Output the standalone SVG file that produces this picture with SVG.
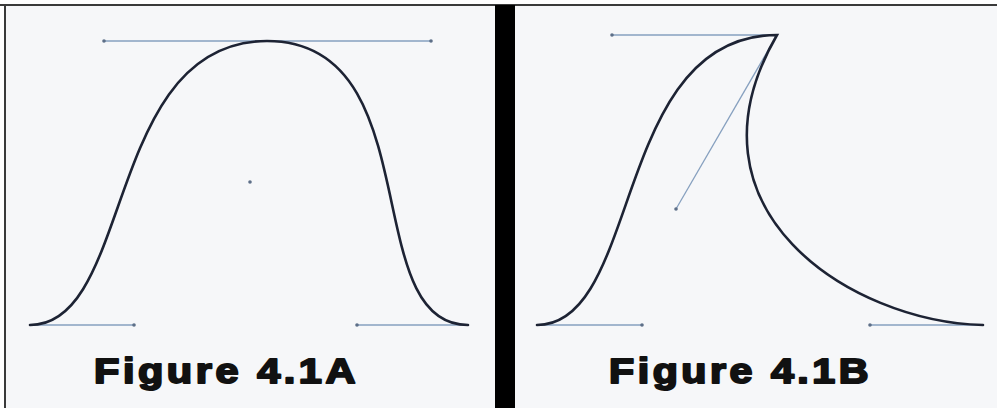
<svg xmlns="http://www.w3.org/2000/svg" width="997" height="408" viewBox="0 0 997 408">
<style>
.curve{fill:none;stroke:#1d2334;stroke-width:2.6;stroke-linecap:round}
.handle{fill:none;stroke:#86a0bf;stroke-width:1.3}
.pt{fill:#5d6f88}
.lbl{font-family:"Liberation Sans",Arial,sans-serif;font-weight:bold;font-size:35px;letter-spacing:3px;fill:#111;stroke:#111;stroke-width:2;stroke-linejoin:round}
</style>
<rect x="0" y="0" width="997" height="408" fill="#ffffff"/>
<rect x="5" y="5" width="992" height="403" fill="#f6f7f9"/>
<line x1="0" y1="5" x2="997" y2="5" stroke="#3a3a3a" stroke-width="2"/>
<line x1="5" y1="5" x2="5" y2="408" stroke="#3a3a3a" stroke-width="2"/>
<rect x="495" y="5" width="20" height="403" fill="#000"/>
<g id="figA">
<line class="handle" x1="104" y1="41" x2="431" y2="41"/>
<line class="handle" x1="30" y1="325" x2="134" y2="325"/>
<line class="handle" x1="357" y1="325" x2="468" y2="325"/>
<circle class="pt" cx="104" cy="41" r="1.8"/>
<circle class="pt" cx="431" cy="41" r="1.8"/>
<circle class="pt" cx="134" cy="325" r="1.8"/>
<circle class="pt" cx="357" cy="325" r="1.8"/>
<circle class="pt" cx="250" cy="182" r="1.8" fill="#8a9ab0"/>
<path class="curve" d="M30,325 C134,325 104,41 267,41 C431,41 357,325 468,325"/>
<text class="lbl" x="94" y="383" textLength="265" lengthAdjust="spacingAndGlyphs">Figure 4.1A</text>
</g>
<g id="figB">
<line class="handle" x1="612" y1="35" x2="777" y2="35"/>
<line class="handle" x1="777" y1="35" x2="676" y2="209"/>
<line class="handle" x1="537" y1="325" x2="642" y2="325"/>
<line class="handle" x1="870" y1="325" x2="983" y2="325"/>
<circle class="pt" cx="612" cy="35" r="1.8"/>
<circle class="pt" cx="676" cy="209" r="1.8"/>
<circle class="pt" cx="642" cy="325" r="1.8"/>
<circle class="pt" cx="870" cy="325" r="1.8"/>
<path class="curve" d="M537,325 C642,325 612,35 777,35 C676,209 850,322 983,325"/>
<text class="lbl" x="609" y="383" textLength="263" lengthAdjust="spacingAndGlyphs">Figure 4.1B</text>
</g>
</svg>
